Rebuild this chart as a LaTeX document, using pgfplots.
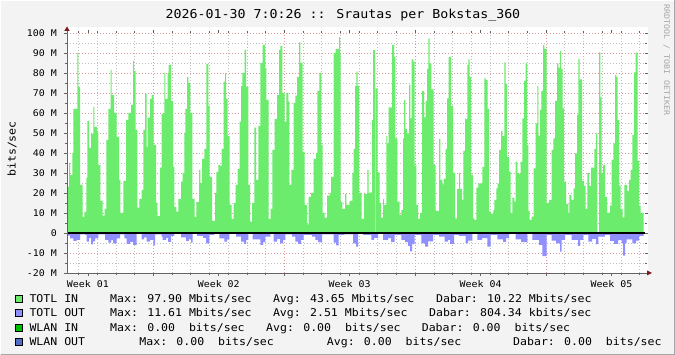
\documentclass[border=0pt]{standalone}
\usepackage{pgfplots}
\pgfplotsset{compat=1.18}
\usepackage{fontspec}
\newfontfamily\rrd[FakeStretch=1.08]{DejaVu Sans Mono}
\definecolor{bg}{HTML}{F3F3F3}
\definecolor{totin}{RGB}{108,236,108}
\definecolor{totout}{RGB}{143,143,255}
\definecolor{wlanin}{RGB}{0,190,0}
\definecolor{wlanout}{RGB}{80,110,200}
\definecolor{mgrid}{RGB}{222,150,150}
\definecolor{mingrid}{RGB}{190,190,190}
\definecolor{arrowc}{RGB}{128,25,25}
\definecolor{axc}{RGB}{100,100,100}
\pgfplotstableread{
x y
67 23
69 35
70 29
72.3 40
73.3 62
77.3 90
78.3 73
80 24
82.7 8
84.3 10.5
86.3 27.5
87.3 56
89 42.5
91 49.5
93.3 63
94.3 53
97 50.5
98.3 34
100.3 16
102.7 8.7
104.7 12
106.3 46.5
108.3 62
110.7 81.5
111.7 69
114 60
116.7 48
119 26.5
120.3 10
123.3 26
126 56.5
128.3 60
131 64
133 86
134 81
135.7 51.5
137.3 12.7
139.3 17
141.7 21.5
143.3 51.5
145 69.5
146.7 43
147.7 57.7
150 67
151.7 69
153.7 44
156 15
157.3 8.5
160 32.7
161.7 59.5
164.3 80
165.3 67
167.7 80
168.7 84
171 66
173 33
174.3 13
176.3 10.7
178.3 17
181 25.7
182.7 30
184.3 50
185.3 62
187 78
188.3 75
190.3 60
192.3 17
194.7 8
196.3 15.5
199 31.5
200.3 25
202 37
204.3 42
206.3 84.5
208.3 63.5
209.7 28
212 6
215 20
216.3 30.5
218.3 34
220 33.5
221.7 42
223.7 75.7
225 80
226 67
227.7 48.5
229.7 14
231.7 7
233.7 15
235.7 24
237.7 32
239.7 55.7
241 73.5
242.3 80
244.7 91.5
246 73
248.3 24
250 5.7
252 15
254.3 52.7
256 26.5
258.3 53.5
260.3 85
262.7 94
265 82.3
266.3 66.5
268.7 7
270.7 12
272.3 41.5
274.7 57
277 69
279 91.5
280.3 93.5
282.3 70
284.7 55.7
286.3 70
288.3 65.7
289.3 24
291.3 31.5
293.7 65
295.3 68.7
297 78
299 95.3
300.3 85
302.7 40.7
304.7 14
307 4.3
308.7 18
311 20
313.7 37
316 40
317.3 71
319.3 80
321.3 44
322.7 10
324.7 7.7
327 18.7
329.7 20
331 28
333.7 90
335.7 92
339 97.9
340 90
340.7 15.7
342.3 12
345 19.5
346.3 14
349.7 16
352.3 30
353.7 42
355 73.5
356.3 80.7
357.7 73.5
359 20
361.7 7
364 19.5
367.3 31.5
368.7 20
370.3 20.3
372 56.5
373 91.5
375 0
375.7 72.3
377.7 30.3
379.7 15
381 7.7
383 17
384 14
386.3 48.5
387.3 44.8
388.7 62.8
392 94
394 88
395.3 47.3
397.3 15.7
399.7 9
401.3 11.5
403 47.3
404 66.5
405.3 52
407 49.8
409 74
410.3 57.3
411.7 86.8
413.3 85.7
414.7 33.7
416.3 14
418 7
420 10
422 71
424 57.8
425.7 66
427 82
428.3 97.3
429.7 84.8
431.3 71.8
433.7 34
435.7 11
439 47
440.3 26.5
442.3 24.3
443.7 27
445.7 42
447 67.3
448.7 88
451 63.5
453 30
455 7.3
457 22
459 30
460 22
462 16.5
463.3 41
465 57
467.3 84
468.3 86.8
469.7 78
471 29
473 7.3
474.3 6.5
476.3 22.7
478.3 24.8
482.3 33
484.3 77.3
485.7 76.5
487.7 62
489 10.7
491 9.5
493.3 11.5
494.3 16.5
496.3 22.3
497.7 24.8
499 41.5
501 51
502.3 48.5
504.3 85.3
505.7 74.5
507 38
509 30.7
510.7 10
512.3 17.7
514.3 15.7
515.7 35.7
517.3 30
519 29.5
520.7 35.7
522.3 57.3
524 76
525.7 84.8
527 44
528.3 11
529.7 6.5
531.7 8.2
533.7 32.3
535.7 54.8
537.3 73.5
538.3 48.7
540 61.5
541.3 71
543 94
544.3 92
546.7 15
549 16.5
551.7 41.5
553.3 47.3
555 66
557 84.8
558.3 82.7
560 91
561 82
562.7 62.3
564 25.7
566 14.5
568.3 10
569.3 19
571.3 16.5
573.7 22.3
575 39.8
577 59
578.3 87
579.7 76.8
582 26
584 23.5
585.7 12
587.3 30
589 23.5
591 32.7
594.3 42
596 49.8
597.3 0
599 90.3
600.3 67.8
601.7 30
603 34
605 18
607 10
610 13.7
611.7 36.5
613.3 44.8
615 79
616.3 78
617.7 56.5
619 23.7
620.7 12
622.7 7.8
624.3 24
627 21
629 26.5
630.7 31.5
632.3 49
634 80.3
635.7 90.2
637.7 36
639 13.7
640.7 10
643.7 10
}\totin
\pgfplotstableread{
x y
67 -1.3
70 -2.7
73.3 -4
76.7 -3.5
80 -0.7
85 -1
86.7 -4.3
89 -2.5
91 -5.7
93 -4.2
95 -2.7
98.3 -0.7
105 -3.5
108.3 -4.8
111 -3.6
113 -5.2
116.7 -2.7
120 -0.7
124.3 -2.7
126.7 -5.5
130 -4.4
133 -6
136.7 -0.5
141.7 -3.2
144 -2.2
146.7 -4.3
150 -3.4
153.3 -6.2
155 -0.7
161.7 -1.8
162.7 -3.5
166 -2.4
168 -4.4
171 -1.5
174.3 -0.5
181 -2.2
186 -4
189 -3
191 -4.8
192.7 -0.5
197 -1.5
203 -2.4
206 -5.2
209.3 -1
214.3 -0.5
219.3 -2.7
224.3 -4.3
227 -3.2
229.3 -0.5
236 -1.8
241 -4.3
244 -5.5
246 -3.6
248.3 -0.5
252.7 -3.2
260.3 -6
263 -4.6
265.3 -1.8
270.3 -0.5
273.7 -4.3
277 -3
280 -5.2
283 -3.6
285.3 -0.7
292 -1.8
295.3 -4.3
298 -5.4
301 -3.4
303.7 -1
312 -1.8
315.3 -3.5
318 -4.6
322 -0.7
333.7 -4.8
336 -6.2
338.7 -1
344.3 -0.7
353 -5.2
356 -6.8
358 -0.5
363 -1
371.3 -3.5
374 -2.4
378 -0.5
383 -3.5
388 -2.6
391 -4.4
394.7 -1
401.3 -3.5
405 -4.6
408 -6.5
410 -9.2
412 -5.6
414.7 -1
421.3 -5.2
425 -6.8
428 -4.2
433 -1
439 -1.8
444.7 -4.3
448 -3.4
450 -5.4
454 -1
459 -1.5
465.7 -5.2
468 -3.8
472.3 -0.5
477.3 -3.5
482 -2.6
487.3 -6.8
490.7 -1
497.3 -3.2
503 -4.4
506 -2.6
509 -0.5
515.7 -3.2
521 -4.6
527.3 -0.5
532.3 -3.5
539 -6
542.3 -11.6
546.7 -1
551.7 -3.8
556 -5.2
560 -9.3
561.7 -3.5
565 -1
571.7 -3.5
578 -6.5
580 -3.5
583.3 -1
588.3 -4.3
592 -3
596 -5.6
598.3 -1.8
605 -1
610 -4
614 -5.4
618 -3.6
621.7 -5
623 -11.3
625 -5
626.7 -3.2
632.3 -5.2
636 -3.8
639 -1.5
643.7 -1.5
}\totout
\begin{document}
\begin{tikzpicture}
\fill[bg] (0pt,0pt) rectangle (675pt,355pt);
\draw[white] (0.5pt,0.5pt) -- (0.5pt,354.5pt) -- (674.5pt,354.5pt);
\draw[gray!70] (0.5pt,0.5pt) -- (674.5pt,0.5pt) -- (674.5pt,354.5pt);
\fill[white] (67pt,82pt) rectangle (648pt,328pt);
\begin{axis}[
  at={(67pt,82pt)}, anchor=south west, scale only axis,
  width=578pt, height=240pt,
  xmin=67, xmax=645, ymin=-20, ymax=100,
  axis line style={draw=none},
  tick align=outside,
  major tick length=3pt, minor tick length=2pt,
  tick style={axc, line width=0.6pt},
  xtick={153.3,284.2,415.1,546.0},
  xticklabels={,,,},
  minor xtick={78.6,97.3,116.0,134.6,172.0,190.7,209.4,228.1,246.8,265.5,302.9,321.6,340.3,359.0,377.7,396.4,433.8,452.5,471.2,489.9,508.6,527.3,564.7,583.4,602.1,620.8,639.5},
  extra x ticks={87.85,218.75,349.65,480.55,611.45},
  extra x tick labels={Week 01,Week 02,Week 03,Week 04,Week 05},
  extra x tick style={grid=none},
  ytick={-20,-10,0,10,20,30,40,50,60,70,80,90,100},
  yticklabels={-20 M,-10 M,0,10 M,20 M,30 M,40 M,50 M,60 M,70 M,80 M,90 M,100 M},
  minor ytick={-15,-5,5,15,25,35,45,55,65,75,85,95},
  grid=both,
  major grid style={mgrid, line width=0.6pt, dash pattern=on 1pt off 2pt},
  minor grid style={mingrid, line width=0.6pt, dash pattern=on 1pt off 2pt},
  tick label style={font=\rrd\fontsize{9.2}{10}\selectfont, inner sep=0pt},
  yticklabel style={anchor=east, xshift=-7pt},
  xticklabel style={anchor=north, yshift=-4.5pt},
]
\addplot[const plot mark left, fill=totin, draw=none] table[x=x,y=y] {\totin} \closedcycle;
\addplot[const plot mark left, fill=totout, draw=none] table[x=x,y=y] {\totout} \closedcycle;
\addplot[black, line width=1.2pt] coordinates {(67,0) (645,0)};
\end{axis}
\begin{scope}[x=1pt,y=1pt]
\draw[axc, line width=0.9pt] (67,82) -- (67,324);
\draw[axc, line width=0.9pt] (64,82) -- (647,82);
\fill[arrowc] (67,328.5) -- (64.3,324) -- (69.7,324) -- cycle;
\fill[arrowc] (652,82) -- (647,84.5) -- (647,79.5) -- cycle;
\node[font=\rrd\fontsize{12.3}{14}\selectfont, anchor=base, inner sep=0pt] at (343,336.7) {2026-01-30 7:0:26 :: Srautas per Bokstas\_360};
\node[font=\rrd\fontsize{10.7}{12}\selectfont, anchor=base, rotate=90, inner sep=0pt] at (15.5,206) {bits/sec};
\node[font=\rrd\fontsize{7.7}{9}\selectfont, text=gray!70, anchor=center, rotate=-90, inner sep=0pt] at (666.5,295) {RRDTOOL / TOBI OETIKER};
\begin{scope}[every node/.style={font=\rrd\fontsize{10.7}{12}\selectfont, anchor=base west, inner sep=0pt}]
\filldraw[fill=totin, draw=black, line width=0.6pt] (15.3,52.5) rectangle (22.6,59.5);
\filldraw[fill=totout, draw=black, line width=0.6pt] (15.3,38.3) rectangle (22.6,45.3);
\filldraw[fill=wlanin, draw=black, line width=0.6pt] (15.3,24.1) rectangle (22.6,31.1);
\filldraw[fill=wlanout, draw=black, line width=0.6pt] (15.3,9.9) rectangle (22.6,16.9);
\node at (29.3,52.3) {TOTL IN};
\node at (110,52.3) {Max: 97.90 Mbits/sec};
\node at (272.8,52.3) {Avg: 43.65 Mbits/sec};
\node at (436,52.3) {Dabar: 10.22 Mbits/sec};
\node at (29.3,38.1) {TOTL OUT};
\node at (110,38.1) {Max: 11.61 Mbits/sec};
\node at (272.8,38.1) {Avg: 2.51 Mbits/sec};
\node at (428.9,38.1) {Dabar: 804.34 kbits/sec};
\node at (29.3,23.9) {WLAN IN};
\node at (110,23.9) {Max: 0.00~~bits/sec};
\node at (266,23.9) {Avg: 0.00~~bits/sec};
\node at (421.6,23.9) {Dabar: 0.00~~bits/sec};
\node at (29.3,9.7) {WLAN OUT};
\node at (139.2,9.7) {Max: 0.00~~bits/sec};
\node at (326.7,9.7) {Avg: 0.00~~bits/sec};
\node at (513,9.7) {Dabar: 0.00~~bits/sec};
\end{scope}
\end{scope}
\end{tikzpicture}
\end{document}
